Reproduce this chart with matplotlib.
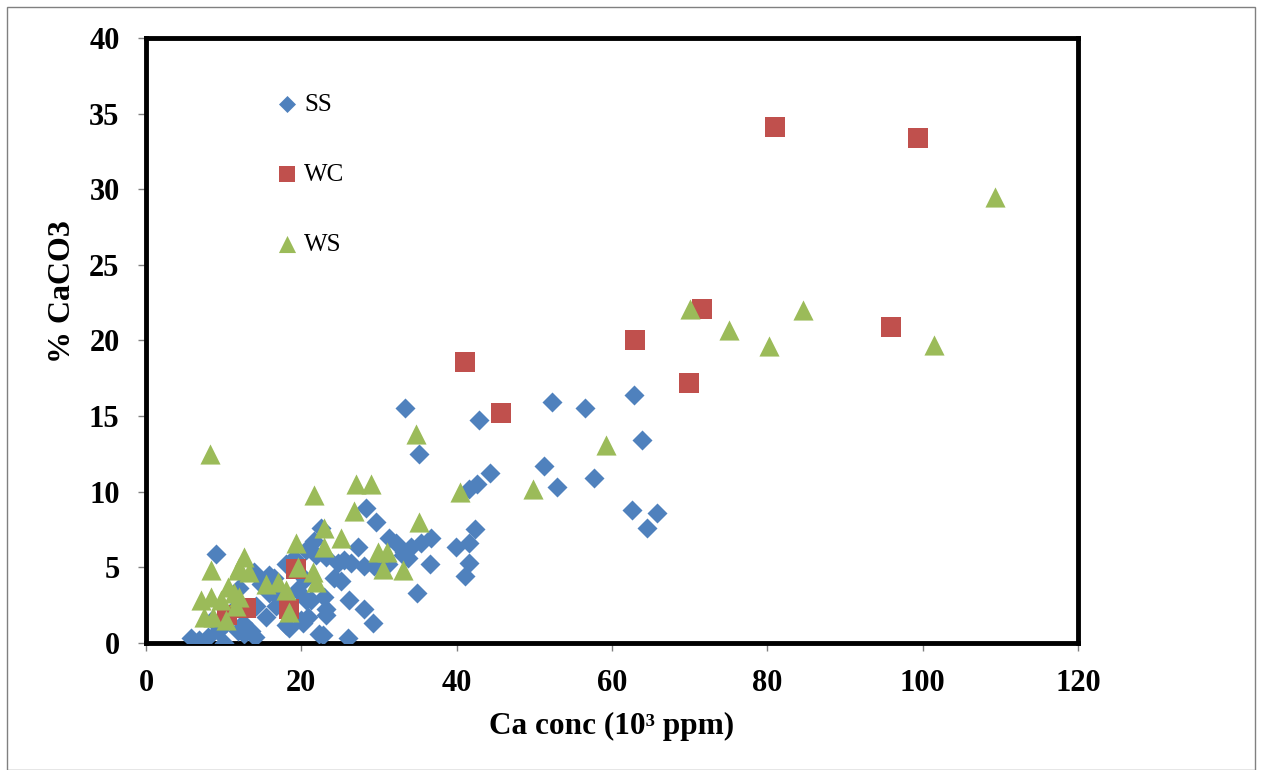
import matplotlib
matplotlib.use('Agg')
import matplotlib.pyplot as plt
from matplotlib.patches import Rectangle

plt.rcParams['font.family'] = ['Liberation Serif', 'DejaVu Serif']

# SS (diamonds)
ss_x = [33.4, 42.9, 52.3, 56.5, 62.8, 35.2, 63.9, 51.3, 44.3, 42.6, 41.6, 52.9, 57.7,
        62.6, 65.8, 64.5, 42.3, 41.6, 39.9, 41.6, 41.1, 36.6, 34.9, 36.7, 35.4, 34.1,
        33.2, 28.3, 29.6, 27.3, 31.3, 32.2, 33.7, 33.1, 26.1, 28.1, 29.2, 26.0, 25.1,
        24.7, 26.4, 28.1, 29.4, 31.1, 25.5, 22.5, 22.8, 23.2, 20.6, 20.9, 24.2, 13.9,
        18.0, 15.8, 14.8, 14.2, 15.8, 15.5, 16.8, 18.4, 20.2, 21.2, 22.9, 23.2, 22.3,
        13.5, 12.5, 11.8, 20.6, 21.9, 21.6, 23.2, 9.0, 5.8, 6.8, 8.0, 10.0, 9.3, 10.3,
        14.0, 12.6, 18.0, 20.0, 17.0, 19.5, 20.5, 11.0, 12.0, 16.5, 19.0, 8.5]
ss_y = [15.5, 14.7, 15.9, 15.5, 16.4, 12.5, 13.4, 11.7, 11.2, 10.5, 10.2, 10.3, 10.9,
        8.8, 8.6, 7.6, 7.5, 6.6, 6.3, 5.3, 4.4, 5.2, 3.3, 6.9, 6.6, 6.3,
        6.0, 8.9, 8.0, 6.3, 6.9, 6.6, 5.6, 5.8, 2.8, 2.2, 1.3, 0.3, 4.1,
        5.3, 5.3, 5.1, 5.1, 5.2, 5.5, 7.6, 0.5, 1.8, 2.8, 1.7, 4.3, 4.7,
        5.2, 4.5, 3.9, 2.4, 3.3, 1.7, 2.4, 1.0, 1.3, 2.8, 3.0, 2.2, 0.6,
        0.8, 1.3, 0.8, 6.1, 5.8, 6.7, 5.7, 5.9, 0.3, 0.2, 0.4, 0.0, 0.8, 1.3,
        0.4, 0.6, 1.2, 1.5, 3.0, 3.5, 4.2, 2.0, 3.6, 4.3, 5.6, 1.5]

# WC (squares)
wc_x = [81.0, 99.4, 71.6, 95.9, 63.0, 41.1, 69.9, 45.7, 19.3, 18.4, 12.9, 10.4]
wc_y = [34.1, 33.4, 22.1, 20.9, 20.0, 18.6, 17.2, 15.2, 4.9, 2.2, 2.3, 1.8]

# WS (triangles)
ws_x = [109.3, 70.1, 75.1, 84.6, 80.2, 101.4, 59.2, 34.8, 8.2, 49.8, 40.4, 27.0, 29.0,
        21.6, 35.2, 26.8, 22.9, 25.1, 22.9, 29.9, 31.0, 30.5, 33.1, 21.5, 21.9, 19.3,
        19.6, 12.6, 12.0, 13.3, 15.5, 17.0, 18.0, 18.4, 12.0, 11.6, 8.4, 11.8, 7.1,
        8.4, 7.5, 8.6, 9.7, 10.3, 10.6, 11.3]
ws_y = [29.5, 22.1, 20.7, 22.0, 19.6, 19.7, 13.1, 13.8, 12.5, 10.2, 10.0, 10.5, 10.5,
        9.8, 8.0, 8.7, 7.6, 6.9, 6.3, 6.0, 6.0, 4.9, 4.8, 4.7, 4.0, 6.6,
        5.0, 5.7, 5.0, 4.7, 3.9, 4.0, 3.5, 2.0, 3.0, 2.4, 4.8, 4.8, 2.8,
        3.0, 1.7, 1.7, 2.8, 1.5, 3.7, 3.3]

fig = plt.figure(figsize=(12.62, 7.70), dpi=100)
ax = fig.add_axes([146 / 1262, 1 - 642.7 / 770, (1078 - 146) / 1262, (642.7 - 38) / 770])

ax.scatter(ss_x, ss_y, marker='D', s=104, color='#4F81BD', linewidths=0, label='SS', zorder=3)
ax.scatter(wc_x, wc_y, marker='s', s=200, color='#C0504D', linewidths=0, label='WC', zorder=3)
ax.scatter(ws_x, ws_y, marker='^', s=210, color='#9BBB59', linewidths=0, label='WS', zorder=3)

ax.set_xlim(0, 120)
ax.set_ylim(0, 40)
ax.set_xticks(range(0, 121, 20))
ax.set_yticks(range(0, 41, 5))
for sp in ax.spines.values():
    sp.set_linewidth(3.5)
    sp.set_color('black')
ax.tick_params(direction='out', length=6, width=1, color='#808080', labelsize=22, pad=13)
for lab in ax.get_xticklabels() + ax.get_yticklabels():
    lab.set_fontweight('bold')

ax.set_xlabel('Ca conc (10\u00b3 ppm)', fontsize=22.5, fontweight='bold', labelpad=10)
ax.set_ylabel('% CaCO3', fontsize=23, fontweight='bold')
ax.yaxis.set_label_coords(-0.074, 0.58)

leg = ax.legend(loc='upper left', bbox_to_anchor=(0.127, 0.925), frameon=False,
                fontsize=18, labelspacing=1.9, handlelength=1.0, handletextpad=0.2,
                markerscale=0.85, borderaxespad=0)

fig.patches.append(Rectangle((7 / 1262, 0), 1248 / 1262, 1 - 7 / 770, transform=fig.transFigure,
                             fill=False, edgecolor='#808080', linewidth=1))

fig.savefig('out.png', dpi=100)
